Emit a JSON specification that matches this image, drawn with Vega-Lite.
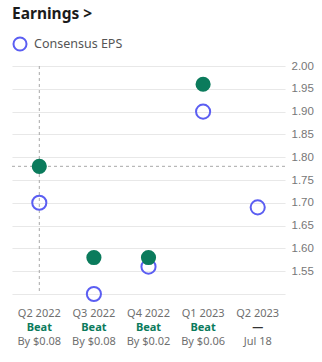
{
  "$schema": "https://vega.github.io/schema/vega-lite/v6.json",
  "width": 273,
  "height": 228,
  "autosize": {"type": "none"},
  "padding": {"left": 12, "top": 66, "right": 37, "bottom": 68},
  "background": "white",
  "title": {
    "text": "Earnings >",
    "anchor": "start",
    "frame": "group",
    "offset": 14,
    "fontSize": 15.5,
    "fontWeight": "bold",
    "color": "#1b1b1b",
    "font": "Noto Sans"
  },
  "data": {
    "values": [
      {"quarter": "Q2 2022", "consensus": 1.70, "actual": 1.78, "result": "Beat", "note": "By $0.08"},
      {"quarter": "Q3 2022", "consensus": 1.50, "actual": 1.58, "result": "Beat", "note": "By $0.08"},
      {"quarter": "Q4 2022", "consensus": 1.56, "actual": 1.58, "result": "Beat", "note": "By $0.02"},
      {"quarter": "Q1 2023", "consensus": 1.90, "actual": 1.96, "result": "Beat", "note": "By $0.06"},
      {"quarter": "Q2 2023", "consensus": 1.69, "actual": null, "result": "—", "note": "Jul 18"}
    ]
  },
  "transform": [
    {"calculate": "datum.quarter + '|' + datum.result + '|' + datum.note", "as": "key"}
  ],
  "resolve": {"axis": {"x": "independent"}},
  "layer": [
    {
      "transform": [{"filter": "datum.quarter == 'Q2 2022'"}],
      "mark": {"type": "rule", "color": "#a8a8a8", "strokeDash": [3, 3], "strokeWidth": 1},
      "encoding": {
        "y": {"field": "actual", "type": "quantitative", "scale": {"domain": [1.5, 2.0]}, "title": null,
          "axis": {"values": [1.5, 1.55, 1.6, 1.65, 1.7, 1.75, 1.8, 1.85, 1.9, 1.95, 2.0], "labelOverlap": false,
            "labelExpr": "datum.value < 1.52 ? '' : format(datum.value, '.2f')"}}
      }
    },
    {
      "transform": [{"filter": "datum.quarter == 'Q2 2022'"}],
      "mark": {"type": "rule", "color": "#a8a8a8", "strokeDash": [3, 3], "strokeWidth": 1},
      "encoding": {
        "x": {"field": "key", "type": "nominal", "sort": null, "title": null,
          "axis": {"orient": "bottom", "labelExpr": "split(datum.label, '|')[2]", "labelPadding": 47, "labelColor": "#6f6f6f"}}
      }
    },
    {
      "mark": {"type": "point", "shape": "circle", "filled": false, "strokeWidth": 2, "size": 200, "opacity": 1, "clip": false},
      "encoding": {
        "x": {"field": "key", "type": "nominal", "sort": null, "title": null,
          "axis": {"orient": "bottom", "labelExpr": "split(datum.label, '|')[0]", "labelPadding": 19, "labelColor": "#6f6f6f"}},
        "y": {"field": "consensus", "type": "quantitative", "scale": {"domain": [1.5, 2.0]}, "title": null,
          "axis": {"values": [1.5, 1.55, 1.6, 1.65, 1.7, 1.75, 1.8, 1.85, 1.9, 1.95, 2.0], "labelOverlap": false,
            "labelExpr": "datum.value < 1.52 ? '' : format(datum.value, '.2f')"}},
        "color": {"datum": "Consensus EPS", "type": "nominal", "scale": {"range": ["#5b5ef2"]},
          "legend": {"orient": "none", "legendX": 0, "legendY": -30, "title": null, "padding": 0,
            "symbolType": "circle", "symbolSize": 170, "symbolStrokeWidth": 2, "symbolFillColor": "white",
            "labelFontSize": 12.5, "labelColor": "#555555", "labelFont": "Noto Sans", "labelOffset": 6}}
      }
    },
    {
      "mark": {"type": "circle", "size": 230, "color": "#0b7b5c", "opacity": 1, "clip": false},
      "encoding": {
        "x": {"field": "key", "type": "nominal", "sort": null, "title": null,
          "axis": {"orient": "bottom", "labelExpr": "split(datum.label, '|')[1]", "labelPadding": 33, "labelFontWeight": "bold",
            "labelColor": {"condition": {"test": "indexof(datum.value, 'Beat') >= 0", "value": "#0b7b5c"}, "value": "#333333"}}},
        "y": {"field": "actual", "type": "quantitative", "scale": {"domain": [1.5, 2.0]}, "title": null,
          "axis": {"values": [1.5, 1.55, 1.6, 1.65, 1.7, 1.75, 1.8, 1.85, 1.9, 1.95, 2.0], "labelOverlap": false,
            "labelExpr": "datum.value < 1.52 ? '' : format(datum.value, '.2f')"}}
      }
    }
  ],
  "config": {
    "view": {"stroke": null},
    "scale": {"bandPaddingInner": 0, "bandPaddingOuter": 0, "pointPadding": 0.5},
    "axisX": {"domain": false, "ticks": false, "grid": false, "labelFont": "Noto Sans", "labelFontSize": 11, "labelAngle": 0, "labelBaseline": "middle"},
    "axisY": {"orient": "right", "domain": false, "ticks": false, "grid": true, "gridColor": "#e8e8e8", "gridWidth": 1.2,
      "labelFont": "Liberation Sans", "labelFontSize": 11.5, "labelColor": "#777777", "labelPadding": 6}
  }
}
